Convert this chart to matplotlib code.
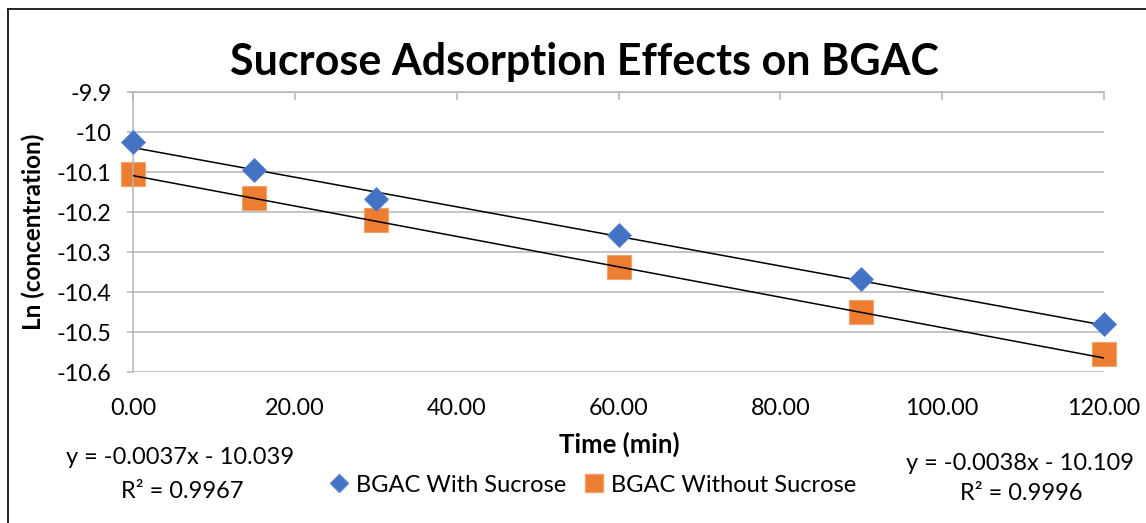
import matplotlib
matplotlib.use("Agg")
import matplotlib.pyplot as plt
from matplotlib.lines import Line2D
from matplotlib.ticker import FuncFormatter, MultipleLocator
import numpy as np

plt.rcParams['font.family'] = ['Lato', 'DejaVu Sans']

# ---- data ----
time_min = [0, 15, 30, 60, 90, 120]
with_sucrose = [-10.026, -10.095, -10.167, -10.258, -10.367, -10.481]
without_sucrose = [-10.106, -10.166, -10.220, -10.337, -10.451, -10.555]
series_names = ["BGAC With Sucrose", "BGAC Without Sucrose"]
fit_with = (-0.0037, -10.039)      # slope, intercept
fit_without = (-0.0038, -10.109)
r2_with = 0.9967
r2_without = 0.9996
title = "Sucrose Adsorption Effects on BGAC"
x_label = "Time (min)"
y_label = "Ln (concentration)"

blue = "#4472C4"
orange = "#ED7D31"
grid_c = "#b4b4b4"

W, H = 1146, 523
fig = plt.figure(figsize=(W / 100, H / 100), dpi=100)
ax = fig.add_axes([133 / W, 1 - 372 / H, (1104 - 133) / W, (372 - 92) / H])

# trendlines
xs = np.array([min(time_min), max(time_min)], dtype=float)
for slope, icpt in (fit_with, fit_without):
    ax.plot(xs, slope * xs + icpt, color="black", lw=1.1, zorder=3)

ax.plot(time_min, with_sucrose, linestyle="none", marker="D", ms=12.3,
        color=blue, mec="#5b84cc", mew=0.6, zorder=4, clip_on=False)
ax.plot(time_min, without_sucrose, linestyle="none", marker="s", ms=17.5,
        color=orange, mec="#f3a26c", mew=0.8, zorder=2, clip_on=False)

ax.set_xlim(0, 120)
ax.set_ylim(-10.6, -9.9)
ax.yaxis.set_major_locator(MultipleLocator(0.1))
ax.xaxis.set_major_locator(MultipleLocator(20))
ax.yaxis.set_major_formatter(FuncFormatter(lambda v, p: "{:g}".format(round(v, 2))))
ax.xaxis.set_major_formatter(FuncFormatter(lambda v, p: "{:.2f}".format(v)))

ax.grid(axis="y", color=grid_c, lw=1.1)
ax.grid(axis="x", visible=False)
ax.set_axisbelow(True)
for s in ("right", "bottom"):
    ax.spines[s].set_visible(False)
ax.spines["left"].set_color(grid_c)
ax.spines["top"].set_color(grid_c)
ax.spines["left"].set_linewidth(1.1)
ax.spines["top"].set_linewidth(1.1)

# y ticks outside left
ax.tick_params(axis="y", which="major", direction="out", length=4.5, color=grid_c,
               width=1.1, labelsize=16.8, pad=11, labelcolor="#000000")
# x tick marks on top pointing in, labels at bottom
ax.tick_params(axis="x", which="major", top=True, bottom=False, labeltop=False,
               labelbottom=True, direction="in", length=6, color=grid_c, width=1.1,
               labelsize=16.8, pad=19)
ax.xaxis.set_tick_params(which="major", bottom=False)

fig.text(584 / W, 1 - 62 / H, title, ha="center", va="center", fontsize=31,
         fontweight="bold")
fig.text(33 / W, 1 - 232 / H, y_label, rotation=90, ha="center", va="center",
         fontsize=17.5, fontweight="bold")
fig.text(619 / W, 1 - 444 / H, x_label, ha="center", va="center",
         fontsize=18.5, fontweight="bold")

# trendline equations
def eq(fit):
    return "y = {:.4f}x - {:.3f}".format(fit[0], abs(fit[1]))

fig.text(180 / W, 1 - 458 / H, eq(fit_with), ha="center", va="center", fontsize=17)
fig.text(182 / W, 1 - 491 / H, "R² = {:.4f}".format(r2_with), ha="center", va="center", fontsize=17)
fig.text(1020 / W, 1 - 463 / H, eq(fit_without), ha="center", va="center", fontsize=17)
fig.text(1021 / W, 1 - 494 / H, "R² = {:.4f}".format(r2_without), ha="center", va="center", fontsize=17)

handles = [
    Line2D([], [], linestyle="none", marker="D", ms=9, color=blue, mec="#5b84cc"),
    Line2D([], [], linestyle="none", marker="s", ms=13, color=orange, mec="#f3a26c"),
]
fig.legend(handles, series_names, loc="center", bbox_to_anchor=(593 / W, 1 - 485 / H),
           ncol=2, frameon=False, fontsize=17, handlelength=0.8, handletextpad=0.3,
           columnspacing=0.8)

# outer chart frame (left and top visible)
fig.add_artist(Line2D([8 / W, 8 / W], [0, 1 - 9 / H], transform=fig.transFigure,
                      color="black", lw=1.2))
fig.add_artist(Line2D([8 / W, 1], [1 - 9 / H, 1 - 9 / H], transform=fig.transFigure,
                      color="black", lw=1.2))

fig.savefig("out.png", dpi=100, facecolor="white")
